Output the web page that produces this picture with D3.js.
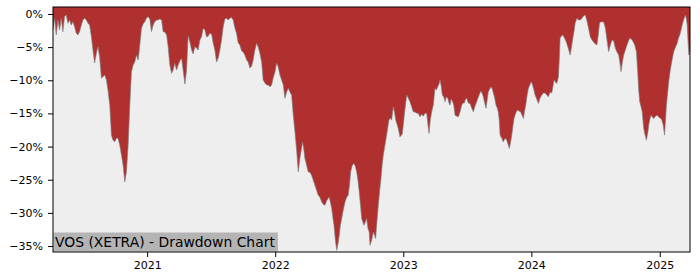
<!DOCTYPE html>
<html lang="en">
  <head>
    <meta charset="utf-8">
    <title>VOS (XETRA) - Drawdown Chart</title>
    <script type="text/javascript" src="https://cdn.jsdelivr.net/npm/d3@7"></script>
<style>
body {
   margin: 0;
   background: #ffffff;
}
svg text {
   font-family: "DejaVu Sans", sans-serif;
}
</style>
  </head>
  <body>
    <script type="text/javascript">
      //
      // Drawdown data (decimal year, drawdown in %)
      //
      var years = [
        2020.267, 2020.279, 2020.292, 2020.305, 2020.318, 2020.331, 2020.344, 2020.357, 2020.370, 2020.383,
        2020.396, 2020.409, 2020.422, 2020.435, 2020.448, 2020.461, 2020.474, 2020.488, 2020.500, 2020.513,
        2020.527, 2020.539, 2020.552, 2020.566, 2020.578, 2020.591, 2020.605, 2020.617, 2020.630, 2020.644,
        2020.656, 2020.670, 2020.683, 2020.695, 2020.709, 2020.722, 2020.734, 2020.748, 2020.761, 2020.773,
        2020.787, 2020.800, 2020.813, 2020.826, 2020.839, 2020.852, 2020.865, 2020.878, 2020.891, 2020.904,
        2020.917, 2020.930, 2020.943, 2020.956, 2020.969, 2020.982, 2020.995, 2021.008, 2021.021, 2021.034,
        2021.047, 2021.060, 2021.073, 2021.086, 2021.099, 2021.113, 2021.125, 2021.138, 2021.152, 2021.164,
        2021.177, 2021.191, 2021.203, 2021.216, 2021.230, 2021.242, 2021.255, 2021.269, 2021.281, 2021.295,
        2021.308, 2021.320, 2021.334, 2021.347, 2021.359, 2021.373, 2021.386, 2021.398, 2021.412, 2021.425,
        2021.438, 2021.451, 2021.464, 2021.477, 2021.490, 2021.503, 2021.516, 2021.529, 2021.542, 2021.555,
        2021.568, 2021.581, 2021.594, 2021.607, 2021.620, 2021.633, 2021.646, 2021.659, 2021.672, 2021.685,
        2021.698, 2021.711, 2021.724, 2021.738, 2021.750, 2021.763, 2021.777, 2021.789, 2021.802, 2021.816,
        2021.828, 2021.841, 2021.855, 2021.867, 2021.880, 2021.894, 2021.906, 2021.920, 2021.933, 2021.945,
        2021.959, 2021.972, 2021.984, 2021.998, 2022.011, 2022.023, 2022.037, 2022.050, 2022.063, 2022.076,
        2022.089, 2022.102, 2022.115, 2022.128, 2022.141, 2022.154, 2022.167, 2022.180, 2022.193, 2022.206,
        2022.214, 2022.224, 2022.232, 2022.245, 2022.258, 2022.271, 2022.284, 2022.297, 2022.310, 2022.323,
        2022.336, 2022.349, 2022.363, 2022.375, 2022.388, 2022.404, 2022.422, 2022.441, 2022.451, 2022.459,
        2022.470, 2022.480, 2022.490, 2022.500, 2022.509, 2022.519, 2022.531, 2022.545, 2022.558, 2022.570,
        2022.580, 2022.589, 2022.602, 2022.615, 2022.625, 2022.636, 2022.646, 2022.656, 2022.666, 2022.675,
        2022.685, 2022.693, 2022.703, 2022.714, 2022.724, 2022.734, 2022.740, 2022.753, 2022.766, 2022.775,
        2022.784, 2022.795, 2022.805, 2022.816, 2022.826, 2022.835, 2022.844, 2022.857, 2022.870, 2022.888,
        2022.898, 2022.909, 2022.922, 2022.931, 2022.941, 2022.951, 2022.961, 2022.974, 2022.984, 2022.992,
        2023.000, 2023.008, 2023.017, 2023.027, 2023.039, 2023.052, 2023.066, 2023.078, 2023.091, 2023.105,
        2023.117, 2023.130, 2023.144, 2023.156, 2023.170, 2023.183, 2023.193, 2023.201, 2023.211, 2023.222,
        2023.234, 2023.248, 2023.258, 2023.269, 2023.279, 2023.287, 2023.296, 2023.305, 2023.316, 2023.326,
        2023.336, 2023.347, 2023.357, 2023.365, 2023.374, 2023.383, 2023.394, 2023.404, 2023.417, 2023.430,
        2023.443, 2023.456, 2023.466, 2023.477, 2023.486, 2023.495, 2023.508, 2023.521, 2023.534, 2023.547,
        2023.560, 2023.573, 2023.586, 2023.605, 2023.615, 2023.625, 2023.636, 2023.646, 2023.655, 2023.664,
        2023.675, 2023.685, 2023.695, 2023.703, 2023.714, 2023.724, 2023.734, 2023.742, 2023.749, 2023.756,
        2023.769, 2023.781, 2023.795, 2023.808, 2023.818, 2023.828, 2023.838, 2023.847, 2023.856, 2023.865,
        2023.878, 2023.891, 2023.904, 2023.917, 2023.927, 2023.938, 2023.947, 2023.956, 2023.966, 2023.977,
        2023.988, 2023.998, 2024.007, 2024.016, 2024.029, 2024.042, 2024.055, 2024.068, 2024.081, 2024.094,
        2024.107, 2024.120, 2024.133, 2024.146, 2024.159, 2024.170, 2024.177, 2024.188, 2024.198, 2024.211,
        2024.218, 2024.224, 2024.234, 2024.245, 2024.258, 2024.271, 2024.287, 2024.302, 2024.313, 2024.323,
        2024.334, 2024.341, 2024.355, 2024.367, 2024.381, 2024.394, 2024.406, 2024.420, 2024.433, 2024.445,
        2024.459, 2024.472, 2024.484, 2024.498, 2024.511, 2024.521, 2024.531, 2024.545, 2024.563, 2024.576,
        2024.589, 2024.602, 2024.615, 2024.628, 2024.641, 2024.654, 2024.667, 2024.680, 2024.689, 2024.698,
        2024.709, 2024.719, 2024.732, 2024.745, 2024.756, 2024.766, 2024.779, 2024.792, 2024.805, 2024.818,
        2024.828, 2024.836, 2024.844, 2024.853, 2024.863, 2024.869, 2024.875, 2024.886, 2024.896, 2024.906,
        2024.914, 2024.923, 2024.933, 2024.943, 2024.953, 2024.966, 2024.980, 2024.992, 2025.005, 2025.016,
        2025.027, 2025.037, 2025.045, 2025.052, 2025.062, 2025.070, 2025.080, 2025.089, 2025.099, 2025.109,
        2025.123, 2025.136, 2025.146, 2025.156, 2025.166, 2025.175, 2025.188, 2025.201, 2025.209, 2025.214,
        2025.220, 2025.227, 2025.236
      ];
      var drawdown = [
        -2.42, -0.65, -3.17, -0.91, -2.42, -0.65, -2.67, -0.41, -0.15, -1.40,
        -0.91, -1.66, -1.16, -1.92, -2.92, -3.17, -2.67, -1.66, -0.91, -0.65,
        -0.91, -1.40, -1.66, -3.43, -5.44, -7.40, -5.89, -4.94, -6.45, -9.67,
        -9.47, -9.21, -9.97, -11.48, -13.75, -18.28, -19.03, -19.29, -18.73, -18.73,
        -19.79, -21.30, -22.81, -25.33, -23.82, -19.79, -13.75, -8.72, -7.70, -7.21,
        -6.19, -6.95, -4.68, -2.16, -1.51, -1.16, -0.60, -0.41, -0.76, -2.67,
        -1.66, -1.16, -0.91, -0.91, -0.76, -0.91, -2.67, -2.72, -3.17, -4.94,
        -7.70, -8.96, -8.46, -7.45, -8.46, -7.70, -7.10, -6.69, -8.46, -10.57,
        -8.46, -3.32, -4.23, -5.44, -6.04, -4.94, -5.14, -5.44, -3.93, -3.43,
        -2.16, -2.42, -3.47, -3.32, -2.92, -3.02, -4.43, -5.44, -7.25, -6.65,
        -5.44, -3.93, -1.92, -0.76, -0.65, -0.91, -0.65, -0.53, -0.91, -2.11,
        -2.92, -4.38, -4.68, -5.59, -5.74, -6.19, -6.95, -7.25, -8.16, -7.86,
        -6.95, -5.44, -4.43, -4.98, -5.89, -7.25, -9.97, -10.42, -10.72, -10.72,
        -10.98, -10.72, -9.67, -8.76, -7.40, -7.96, -9.21, -9.97, -10.72, -12.73,
        -11.78, -11.22, -11.78, -12.24, -15.26, -17.78, -20.54, -23.82, -21.75, -20.24,
        -19.29, -20.54, -21.80, -22.81, -23.82, -23.87, -24.32, -25.08, -25.83, -26.59,
        -27.34, -27.64, -28.35, -28.70, -28.85, -28.10, -27.60, -29.35, -30.82, -31.87,
        -34.14, -35.65, -34.74, -33.38, -31.87, -30.86, -29.61, -28.35, -27.64, -27.34,
        -25.83, -23.82, -22.81, -22.55, -22.96, -23.82, -25.08, -26.84, -28.85, -30.86,
        -31.42, -31.87, -31.42, -30.86, -32.33, -32.89, -34.89, -34.14, -32.89, -33.38,
        -33.88, -31.12, -28.85, -26.59, -24.82, -22.81, -21.30, -19.79, -18.28, -16.01,
        -15.71, -16.01, -14.00, -14.80, -16.01, -16.62, -17.27, -18.54, -18.28, -18.13,
        -16.77, -15.26, -13.75, -12.24, -12.69, -13.25, -14.05, -14.76, -14.80, -14.96,
        -14.96, -15.51, -15.11, -15.41, -14.96, -15.00, -16.77, -18.02, -16.01, -14.76,
        -13.75, -11.22, -11.48, -10.98, -10.57, -9.97, -10.88, -12.24, -12.54, -13.25,
        -12.54, -12.69, -13.44, -13.75, -12.84, -13.14, -13.75, -15.26, -15.41, -15.51,
        -14.80, -13.75, -13.44, -13.44, -12.84, -12.73, -13.44, -13.49, -14.20, -14.76,
        -13.90, -13.25, -12.54, -11.63, -11.93, -12.49, -13.44, -14.24, -12.99, -11.74,
        -11.33, -10.98, -11.33, -11.93, -12.69, -13.75, -14.20, -14.80, -16.01, -18.28,
        -18.73, -19.29, -18.73, -19.03, -19.64, -20.29, -19.34, -18.28, -16.92, -15.76,
        -14.96, -14.50, -14.65, -14.80, -15.26, -15.76, -14.65, -13.75, -12.39, -11.22,
        -10.72, -10.23, -10.57, -11.18, -12.24, -12.84, -13.49, -12.69, -12.24, -11.93,
        -11.93, -12.24, -12.49, -11.78, -11.93, -10.72, -9.97, -10.27, -10.47, -9.47,
        -6.65, -3.67, -3.32, -3.17, -3.63, -4.18, -5.14, -6.19, -4.98, -3.67,
        -2.42, -1.40, -0.65, -0.91, -0.91, -0.65, -0.30, -0.15, -1.06, -2.11,
        -3.47, -3.93, -4.23, -4.53, -4.68, -3.17, -1.36, -1.16, -1.21, -2.11,
        -3.93, -5.69, -4.68, -3.93, -4.08, -5.18, -5.74, -6.19, -7.25, -8.72,
        -7.25, -6.19, -5.44, -4.68, -4.08, -3.67, -3.78, -4.18, -4.68, -5.69,
        -8.72, -11.48, -13.25, -13.90, -14.76, -16.01, -17.27, -18.28, -19.03, -17.98,
        -16.77, -15.86, -15.26, -15.56, -15.76, -15.41, -15.26, -15.56, -15.71, -16.01,
        -16.77, -18.28, -16.01, -13.75, -11.78, -10.23, -8.76, -7.70, -6.65, -5.69,
        -4.98, -4.43, -3.63, -3.17, -2.42, -1.66, -0.76, -0.15, -0.91, -1.66,
        -3.93, -6.19, -5.44
      ];
      var yTicks = [0, -5, -10, -15, -20, -25, -30, -35];
      var xTicks = [2021, 2022, 2023, 2024, 2025];
      var title = "VOS (XETRA) - Drawdown Chart";

      // decimal year -> Date
      function toDate(t) {
        var y = Math.floor(t);
        var a = new Date(y, 0, 1).getTime();
        var b = new Date(y + 1, 0, 1).getTime();
        return new Date(a + (t - y) * (b - a));
      }

      var data = years.map(function(t, i) {
        return { date: toDate(t), value: drawdown[i] };
      });

      var width = 700;
      var height = 280;
      var margin = { top: 7, right: 10, bottom: 28, left: 53 };
      var plotW = width - margin.left - margin.right;
      var plotH = height - margin.top - margin.bottom;

      var svg = d3.select("body")
        .append("svg")
        .attr("width", width)
        .attr("height", height);

      var g = svg.append("g")
        .attr("transform", "translate(" + margin.left + "," + margin.top + ")");

      var x = d3.scaleTime()
        .domain(d3.extent(data, function(d) { return d.date; }))
        .range([0, plotW]);

      var y = d3.scaleLinear()
        .domain([-35.9, 1.05])
        .range([plotH, 0]);

      // plot background
      g.append("rect")
        .attr("width", plotW)
        .attr("height", plotH)
        .attr("fill", "#eeeeee");

      // drawdown area, filled from the top of the axis down to the curve
      var area = d3.area()
        .x(function(d) { return x(d.date); })
        .y0(y(y.domain()[1]))
        .y1(function(d) { return y(d.value); });

      g.append("path")
        .datum(data)
        .attr("d", area)
        .attr("fill", "#b03030");

      var line = d3.line()
        .x(function(d) { return x(d.date); })
        .y(function(d) { return y(d.value); });

      g.append("path")
        .datum(data)
        .attr("d", line)
        .attr("fill", "none")
        .attr("stroke", "#808080")
        .attr("stroke-opacity", 0.8)
        .attr("stroke-width", 0.8);

      // axes
      var fmtPct = function(v) {
        return (v < 0 ? "\u2212" : "") + Math.abs(v) + "%";
      };

      var yAxis = g.append("g")
        .call(d3.axisLeft(y)
          .tickValues(yTicks)
          .tickFormat(fmtPct)
          .tickSize(5)
          .tickPadding(5));

      var xAxis = g.append("g")
        .attr("transform", "translate(0," + plotH + ")")
        .call(d3.axisBottom(x)
          .tickValues(xTicks.map(function(yr) { return new Date(yr, 0, 1); }))
          .tickFormat(d3.timeFormat("%Y"))
          .tickSize(5)
          .tickPadding(4));

      [yAxis, xAxis].forEach(function(ax) {
        ax.select(".domain").remove();
        ax.selectAll("text")
          .attr("font-family", "DejaVu Sans, sans-serif")
          .attr("font-size", "11px")
          .attr("fill", "#000");
        ax.selectAll("line").attr("stroke", "#000");
      });

      // label box in the lower left corner
      var labelBox = g.append("rect")
        .attr("x", 0.5)
        .attr("y", plotH - 19.5)
        .attr("height", 19)
        .attr("fill", "#b4b4b4");
      var label = g.append("text")
        .text(title)
        .attr("x", 2)
        .attr("y", plotH - 5)
        .attr("font-size", "13.9px")
        .attr("fill", "#000");
      labelBox.attr("width", label.node().getBBox().width + 4);

      // frame
      g.append("rect")
        .attr("width", plotW)
        .attr("height", plotH)
        .attr("fill", "none")
        .attr("stroke", "#000")
        .attr("stroke-width", 1);
    </script>
  </body>
</html>
